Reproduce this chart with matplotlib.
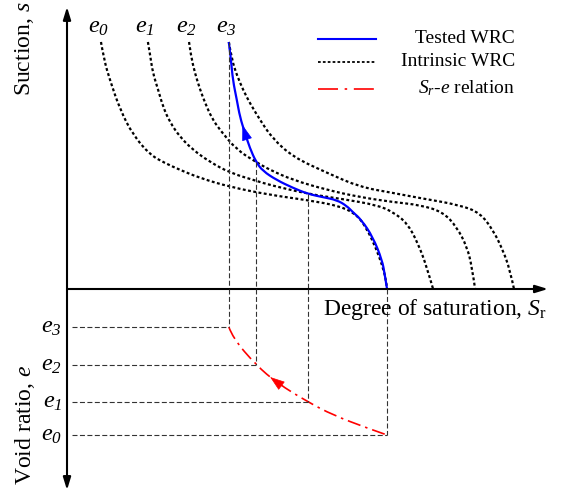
import numpy as np
import matplotlib
matplotlib.use('Agg')
import matplotlib.pyplot as plt
from matplotlib.lines import Line2D
from matplotlib.path import Path
from matplotlib.patches import PathPatch

plt.rcParams['font.family'] = ['Liberation Serif', 'DejaVu Serif']
plt.rcParams['mathtext.fontset'] = 'custom'
plt.rcParams['mathtext.rm'] = 'Liberation Serif'
plt.rcParams['mathtext.it'] = 'Liberation Serif:italic'
plt.rcParams['mathtext.cal'] = 'Liberation Serif:italic'
plt.rcParams['mathtext.bf'] = 'Liberation Serif:bold'

# ---------------- data (schematic units) ----------------
void_labels = [r'$e_{\mathcal{0}}$', r'$e_{\mathcal{1}}$', r'$e_{\mathcal{2}}$', r'$e_{\mathcal{3}}$']
void_ratio = [1.0, 0.774, 0.521, 0.260]

# intrinsic WRCs (degree of saturation, suction)
sr_e0 = [7.6, 8.3, 9.6, 11.9, 14.8, 18.6, 21.9, 25.3, 29.8, 36.5, 45.4, 53.7, 61.1, 64.9, 67.1, 69.1, 70.5, 71.4, 71.6]
s_e0 = [100, 92.7, 84.6, 72.5, 62.3, 54.3, 51.0, 48.2, 44.9, 41.3, 38.1, 36.0, 33.6, 30.0, 24.3, 16.6, 9.7, 3.6, 0]

sr_e1 = [18.1, 18.6, 19.2, 20.4, 21.5, 23.0, 25.3, 28.2, 32.0, 36.5, 42.5, 45.4, 53.9, 61.7, 69.3, 72.9, 76.1, 78.5, 80.5, 81.9]
s_e1 = [100, 94.7, 87.5, 80.6, 73.7, 67.6, 61.5, 56.3, 51.4, 47.0, 43.7, 42.1, 38.5, 36.4, 34.0, 31.2, 26.7, 18.6, 8.9, 0]

sr_e2 = [27.3, 27.7, 28.6, 29.8, 30.9, 32.4, 34.2, 38.0, 42.3, 45.4, 50.6, 58.2, 65.5, 72.9, 79.0, 84.1, 87.2, 89.5, 90.6, 91.3]
s_e2 = [100, 94.7, 87.5, 80.6, 75.3, 69.2, 64.4, 56.3, 51.4, 48.2, 44.1, 40.1, 37.2, 35.2, 34.0, 31.2, 25.1, 17.0, 8.9, 0]

sr_e3 = [36.2, 36.9, 38.0, 39.4, 40.9, 43.2, 45.9, 50.6, 58.2, 65.5, 72.9, 79.0, 87.9, 92.4, 95.3, 97.5, 99.1, 100.0]
s_e3 = [100, 92.7, 86.6, 80.6, 75.3, 68.4, 61.1, 53.4, 47.0, 41.3, 38.9, 36.8, 34.0, 30.8, 23.9, 15.8, 7.7, 0]

# tested WRC
sr_tested = [36.2, 36.7, 37.1, 38.0, 38.7, 39.8, 40.9, 42.3, 43.8, 46.9, 50.6, 53.9, 57.2, 60.4, 62.6, 63.9, 65.9, 68.4, 70.5, 71.1, 71.6]
s_tested = [100, 92.7, 84.6, 76.5, 69.6, 63.2, 57.1, 51.4, 47.8, 44.1, 40.9, 38.5, 37.2, 36.0, 33.6, 31.2, 27.9, 21.1, 11.7, 5.7, 0]

# intersection of tested WRC with each intrinsic WRC (e0..e3)
sr_at_e = [71.6, 53.9, 42.3, 36.2]
s_at_e = [0.0, 38.5, 51.4, 100.0]

# Sr - e relation
sr_rel = [36.2, 37.1, 42.3, 47.0, 53.9, 59.5, 67.1, 71.6]
e_rel = [0.260, 0.336, 0.521, 0.644, 0.774, 0.863, 0.952, 1.0]

# arrow positions along the curves
arrow_tested_s = (60.3, 66.4)   # base, tip (suction)
arrow_rel_e = (0.664, 0.603)    # base, tip (void ratio)

legend_labels = ['Tested WRC', 'Intrinsic WRC', r'$S_{r}$-$e$ relation']

# ---------------- figure ----------------
W, H = 562, 492
fig = plt.figure(figsize=(W / 100, H / 100), dpi=100)
ax1 = fig.add_axes([0, 203 / H, 1, 289 / H])
ax2 = fig.add_axes([0, 0, 1, 203 / H])
for ax in (ax1, ax2):
    ax.set_xlim(-14.99, 110.74)
    ax.axis('off')
ax1.set_ylim(0, 117.0)
ax2.set_ylim(1.3904, 0)

blue = '#0000ff'
red = '#ff0000'
guide = '#333333'


def smooth_curve(ax, xs, ys, **kw):
    """Draw a smooth quadratic B-spline style path using the read points as controls."""
    pts = np.column_stack([xs, ys]).astype(float)
    verts = [pts[0]]
    codes = [Path.MOVETO]
    for i in range(1, len(pts) - 1):
        mid = (pts[i] + pts[i + 1]) / 2
        if i == len(pts) - 2:
            mid = pts[i + 1]
        verts += [pts[i], mid]
        codes += [Path.CURVE3, Path.CURVE3]
    patch = PathPatch(Path(verts, codes), fill=False, clip_on=False, **kw)
    ax.add_patch(patch)
    return patch


dot_style = dict(edgecolor='black', lw=1.6, linestyle=(0, (1.3, 1.1)))
guide_style = dict(color=guide, lw=0.8, linestyle=(0, (4.5, 2.2)), clip_on=False)

# axes with arrows
ax_arrow = dict(arrowstyle='-|>,head_length=0.75,head_width=0.23', mutation_scale=10,
                color='black', lw=1.5, shrinkA=0, shrinkB=0)
ax1.annotate('', xy=(0, 114.2), xytext=(0, 0), arrowprops=ax_arrow, annotation_clip=False)
ax1.annotate('', xy=(107.6, 0), xytext=(0, 0), arrowprops=ax_arrow, annotation_clip=False)
ax2.annotate('', xy=(0, 1.377), xytext=(0, 0), arrowprops=ax_arrow, annotation_clip=False)

# guide lines
for sr, s, e in zip(sr_at_e, s_at_e, void_ratio):
    if s > 0:
        ax1.plot([sr, sr], [s, 0], **guide_style)
    ax2.plot([sr, sr], [0, e], **guide_style)
    ax2.plot([1.1, sr], [e, e], **guide_style)

# intrinsic curves
for xs, ys in [(sr_e0, s_e0), (sr_e1, s_e1), (sr_e2, s_e2), (sr_e3, s_e3)]:
    smooth_curve(ax1, xs, ys, **dot_style)

# tested WRC
smooth_curve(ax1, sr_tested, s_tested, edgecolor=blue, lw=1.6)
s_rev = np.array(s_tested)[::-1]
sr_rev = np.array(sr_tested)[::-1]
b_s, t_s = arrow_tested_s
ax1.annotate('', xy=(np.interp(t_s, s_rev, sr_rev), t_s),
             xytext=(np.interp(b_s, s_rev, sr_rev), b_s),
             arrowprops=dict(arrowstyle='-|>,head_length=1.0,head_width=0.33', mutation_scale=10,
                             color=blue, lw=0.5, shrinkA=0, shrinkB=0),
             annotation_clip=False)

# Sr-e relation
smooth_curve(ax2, sr_rel, e_rel, edgecolor=red, lw=1.2, linestyle=(0, (8, 3, 1.5, 3)))
b_e, t_e = arrow_rel_e
ax2.annotate('', xy=(np.interp(t_e, e_rel, sr_rel), t_e),
             xytext=(np.interp(b_e, e_rel, sr_rel), b_e),
             arrowprops=dict(arrowstyle='-|>,head_length=0.95,head_width=0.33', mutation_scale=10,
                             color=red, lw=0.5, shrinkA=0, shrinkB=0),
             annotation_clip=False)

# top e labels
for lab, xs, ys in zip(void_labels, [sr_e0, sr_e1, sr_e2, sr_e3], [s_e0, s_e1, s_e2, s_e3]):
    ax1.annotate(lab, xy=(xs[0], ys[0]), xytext=(-2, 6.5), textcoords='offset points',
                 ha='center', va='baseline', fontsize=17.5, annotation_clip=False)

# lower e labels
for lab, e in zip(void_labels, void_ratio):
    ax2.annotate(lab, xy=(0, e), xytext=(-3.6, -4.3), textcoords='offset points',
                 ha='right', va='baseline', fontsize=17.5, annotation_clip=False)

# axis labels
fig.text(323 / W, 1 - 315 / H, r'Degree of saturation, $S_\mathrm{r}$', ha='left', va='baseline', fontsize=17)
fig.text(25 / W, 1 - 49 / H, r'Suction, $s$', rotation=90, ha='center', va='center', fontsize=17)
fig.text(25 / W, 1 - 425 / H, r'Void ratio, $e$', rotation=90, ha='center', va='center', fontsize=17)

# legend (manual)
leg_y = [39, 62, 89]
leg_handles = [dict(color=blue, lw=1.5),
               dict(color='black', lw=1.3, linestyle=(0, (1.5, 1.2))),
               dict(color=red, lw=1.2, linestyle=(0, (12, 4, 1.5, 4)))]
for y, lab, st in zip(leg_y, legend_labels, leg_handles):
    fig.add_artist(Line2D([318 / W, 376 / W], [1 - y / H, 1 - y / H], transform=fig.transFigure, **st))
    fig.text(515 / W, 1 - (y + 4) / H, lab, ha='right', va='baseline', fontsize=14)

fig.savefig('out.png', dpi=100)
